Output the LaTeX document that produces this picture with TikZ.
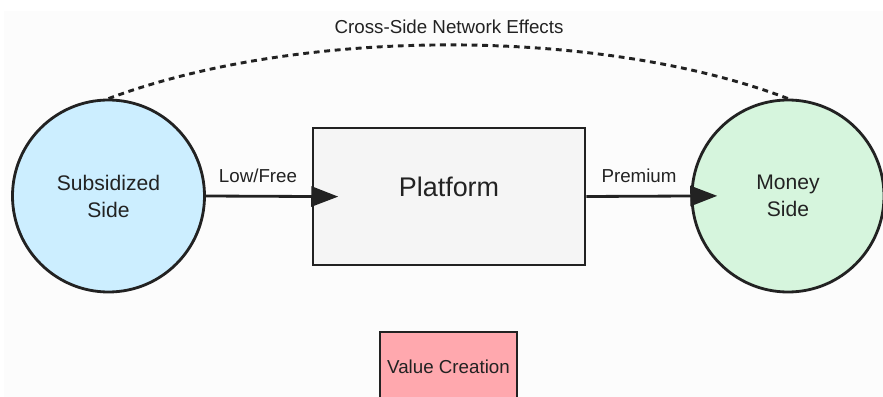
\documentclass[tikz,border=0pt]{standalone}
\usepackage{fontspec}
\setmainfont{Liberation Sans}
\usepackage{tikz}
\usetikzlibrary{arrows.meta}

\definecolor{subsidblue}{HTML}{CCEEFF}
\definecolor{moneygreen}{HTML}{D6F5DD}
\definecolor{platgray}{HTML}{F5F5F5}
\definecolor{valuepink}{HTML}{FFA8AE}
\definecolor{inkgray}{HTML}{222222}

\tikzset{
  side/.style={circle, draw=inkgray, line width=2.4pt, minimum size=5.76cm, inner sep=0pt,
    align=center, text=inkgray, font=\fontsize{18}{23}\selectfont},
  boxnode/.style={rectangle, draw=inkgray, line width=2.4pt, inner sep=0pt, text=inkgray},
  flow/.style={draw=inkgray, line width=2.4pt, -{Triangle[length=0.81cm, width=0.6cm]}, shorten >=-0.8cm},
  flowlabel/.style={text=inkgray, font=\fontsize{16}{19}\selectfont}
}

\begin{document}
\begin{tikzpicture}[x=0.03cm, y=-0.03cm]
    % page and background
    \useasboundingbox (0, 0) rectangle (883, 397);
    \clip (0, 0) rectangle (883, 397);
    \fill[white] (0, 0) rectangle (883, 397);
    \fill[gray!2] (4, 11) rectangle (883, 397);

    % draw sides
    \node[side, fill=subsidblue] (subsid) at (108.5, 196) {Subsidized\\Side};
    \node[side, fill=moneygreen] (money) at (788, 196) {Money\\Side};

    % draw platform
    \node[boxnode, fill=platgray, minimum width=8.16cm, minimum height=4.11cm,
      text height=10pt, text depth=10pt,
      font=\fontsize{23}{27}\selectfont] (platform) at (449, 196.5) {Platform};

    % draw value box
    \node[boxnode, fill=valuepink, minimum width=4.11cm, minimum height=2.1cm,
      font=\fontsize{16}{19}\selectfont] (value) at (448.5, 367) {Value Creation};

    % draw flows
    \draw[flow] (subsid.east) -- (platform.west);
    \draw[flow] (platform.east) -- (money.west);
    \node[flowlabel] (lowfree) at (258, 176) {Low/Free};
    \node[flowlabel] (premium) at (639, 176) {Premium};

    % draw network effect arc
    \draw[inkgray, line width=2.5pt, dash pattern=on 5pt off 4pt]
      (subsid.north) .. controls (300, 27) and (600, 27) .. (money.north);
    \node[flowlabel] (cross) at (449, 27) {Cross-Side Network Effects};
\end{tikzpicture}
\end{document}
